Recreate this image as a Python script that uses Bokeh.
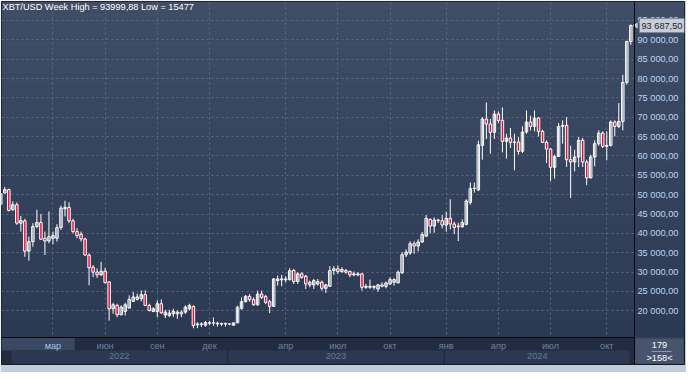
import numpy as np
from bokeh.plotting import figure
from bokeh.models import (Range1d, LinearAxis, FixedTicker, CustomJSTickFormatter, Label,
                          ColumnDataSource, Grid)
from bokeh.embed import file_html
from bokeh.resources import INLINE

# ---- data (weekly XBT/USD candles) ----
open_ = [47500, 50430, 51300, 46100, 47400, 42630, 43240, 35430, 37860, 41760,
         42800, 38730, 38040, 38730, 38730, 41500, 46360, 46700, 43240, 40460,
         39770, 38560, 34400, 31280, 29990, 29300, 30240, 27460, 20520, 21390,
         18960, 19830, 20700, 22430, 22950, 23120, 24160, 21390, 19830, 19830,
         21820, 18900, 18790, 19220, 19220, 19650, 19650, 20520, 21130, 16360,
         16620, 16270, 16800, 16900, 16800, 16600, 16700, 16550, 16270, 16880,
         20600, 22340, 23730, 22860, 21560, 24330, 23730, 22340, 21130, 27800,
         28240, 28000, 28060, 30400, 27540, 29540, 28930, 26680, 26680, 26940,
         27370, 25810, 26330, 30400, 30840, 30140, 30400, 30140, 29280, 29540,
         29540, 26070, 26330, 26070, 25640, 26680, 26330, 26940, 27370, 27200,
         29800, 34480, 34960, 37340, 36740, 37770, 39290, 43620, 41890, 43450,
         43270, 42150, 43880, 42410, 41720, 41700, 42320, 47940, 51570, 51230,
         62740, 69530, 68240, 66090, 70820, 69190, 63770, 64630, 63510, 63600,
         61190, 66180, 68760, 67640, 69790, 66350, 63510, 61790, 57060, 59900,
         67640, 67900, 59040, 58440, 59730, 64030, 58440, 54310, 59730, 63170,
         65920, 62740, 62740, 68760, 67640, 68930, 79000, 89570]
high = [50400, 51990, 51560, 48270, 48000, 44540, 43760, 39160, 42630, 46100,
        45060, 40460, 45670, 40460, 42370, 47140, 48440, 48000, 43760, 41330,
        40460, 38900, 34830, 31800, 30930, 32660, 31100, 27630, 22080, 21820,
        21390, 22080, 24000, 24860, 24420, 25290, 25290, 21820, 20960, 22690,
        22950, 20260, 20260, 20520, 20090, 20090, 21390, 21820, 21390, 17050,
        17050, 17400, 17400, 18270, 17190, 16970, 16970, 16800, 16970, 21300,
        23470, 24070, 24330, 23470, 25200, 25200, 24070, 22860, 28410, 29100,
        29270, 28930, 31000, 30840, 29970, 29970, 29280, 27800, 28240, 28240,
        27800, 26940, 31530, 31530, 31710, 31270, 30840, 30400, 30140, 29970,
        29800, 26940, 28060, 26500, 26940, 27370, 27540, 28670, 28410, 30400,
        35170, 35870, 37950, 37950, 38470, 40370, 44740, 43880, 44140, 43800,
        44740, 45610, 48810, 43020, 42740, 43600, 48800, 53130, 53130, 63950,
        70050, 73830, 69530, 71770, 71510, 72540, 65750, 67210, 65750, 64890,
        67640, 71770, 70390, 71770, 70050, 66780, 64030, 62050, 60330, 68500,
        69190, 70050, 62650, 61620, 64890, 64630, 59040, 60330, 64030, 66610,
        66350, 66350, 69190, 69190, 73660, 80970, 89800, 93999.88]
low = [46900, 50260, 45670, 45840, 42200, 40460, 33960, 32920, 36560, 41330,
       38300, 34400, 37430, 37170, 37860, 40890, 44360, 42630, 40030, 38730,
       37860, 34220, 26590, 28700, 28510, 29030, 27030, 17490, 19220, 18350,
       18960, 18790, 20700, 22430, 22690, 22430, 21220, 19830, 19650, 18350,
       19220, 18100, 18360, 18360, 17920, 18360, 19220, 20090, 15477, 15500,
       15800, 15920, 16270, 16100, 15920, 16100, 15920, 16270, 16270, 16880,
       20260, 22170, 22340, 21300, 21300, 23030, 21730, 19390, 21130, 26500,
       26330, 27370, 27800, 26940, 26940, 28240, 25640, 26070, 25640, 26500,
       25200, 24590, 26330, 29280, 29540, 29800, 29540, 28670, 28930, 28930,
       25200, 25640, 25640, 25470, 24940, 26070, 25810, 26680, 26500, 27200,
       29540, 33870, 34480, 34740, 35350, 37600, 39120, 39980, 40150, 42660,
       41290, 40420, 41020, 39810, 38000, 41450, 42060, 47430, 50540, 50970,
       59040, 64370, 60590, 64370, 68500, 60930, 59300, 62050, 56290, 60330,
       60760, 65750, 66610, 66350, 65060, 63340, 58180, 53450, 54140, 59730,
       63170, 57150, 49150, 56030, 57150, 57150, 52420, 54310, 57320, 62650,
       62050, 58870, 62480, 65060, 67210, 66610, 78390, 88710]
close = [50300, 51300, 45930, 47400, 42630, 43320, 35430, 37860, 41760, 42800,
         38470, 38040, 39160, 39420, 41500, 46530, 46700, 43240, 40460, 39420,
         38560, 34400, 31100, 29990, 29300, 30240, 27290, 20520, 21560, 18960,
         20960, 21560, 22950, 23560, 23560, 24160, 21390, 20090, 20520, 21820,
         19480, 19650, 19390, 19830, 19650, 19220, 20960, 21390, 16190, 16620,
         16500, 16970, 16900, 16800, 16600, 16700, 16550, 16600, 16880, 20950,
         22340, 23730, 22860, 21560, 24330, 23470, 22170, 21130, 28240, 28240,
         28000, 28240, 30400, 27540, 29540, 28670, 26940, 27370, 27800, 27540,
         25810, 26680, 30400, 30840, 30140, 30660, 29970, 29280, 29540, 29280,
         26070, 26330, 26070, 26330, 26680, 26330, 27200, 28060, 28060, 29970,
         34480, 35170, 37340, 36740, 37770, 39680, 43880, 41890, 43450, 43270,
         42150, 43880, 42410, 41540, 41890, 42800, 48370, 51570, 51700, 62900,
         69530, 68240, 66090, 70820, 69190, 63770, 64630, 63510, 63600, 61190,
         66180, 68760, 67640, 69790, 66350, 63510, 61790, 57060, 59900, 67640,
         67900, 59040, 58440, 59730, 64030, 58440, 54310, 59730, 63170, 65920,
         62480, 62480, 68760, 67640, 68930, 79000, 89570, 93687.5]

month_ticks = [13, 26, 39, 52, 71, 84, 97, 111, 124, 137, 151]   # first bar of the month
month_labels = ["мар", "июн", "сен", "дек", "апр", "июл", "окт", "янв", "апр", "июл", "окт"]
year_first_bar = [3, 57, 111]
year_labels = ["2022", "2023", "2024"]
price_ticks = list(range(20000, 100000, 5000))
bars_total = 179

# ---- layout constants (pixels -> data units) ----
n = len(close)
PX = 4.013            # px per bar
VPP = 258.33          # price units per px
FW, FH = 683, 363     # frame size (plot + right scale + bottom strip)
PLOT_W, PLOT_H = 633, 336
x0 = 1 - 3.3 / PX
x_end = x0 + FW / PX
xr = x0 + PLOT_W / PX               # right edge of the price area
y1 = 99900
yb = y1 - PLOT_H * VPP              # bottom of the price area
y_end = yb - (FH - PLOT_H) * VPP
y_mid = yb - 13 * VPP               # boundary month row / year row
FONT = "Liberation Sans"
FS = "9.2px"

idx = np.arange(n)
o = np.array(open_, dtype=float); c = np.array(close, dtype=float)
up = c >= o
src_up = ColumnDataSource(dict(x=idx[up], top=np.maximum(o, c)[up], bottom=np.minimum(o, c)[up]))
src_dn = ColumnDataSource(dict(x=idx[~up], top=np.maximum(o, c)[~up], bottom=np.minimum(o, c)[~up]))
src_w = ColumnDataSource(dict(x=idx, h=high, l=low))

p = figure(width=686, height=372, output_backend="svg", toolbar_location=None,
           x_range=Range1d(x0, x_end), y_range=Range1d(y_end, y1),
           x_axis_location=None, y_axis_location=None,
           min_border_left=1, min_border_top=1, min_border_right=2, min_border_bottom=8)
p.border_fill_color = "#c2cddb"
p.background_fill_color = "#36435d"
p.outline_line_color = "#161b22"
p.grid.visible = False

# background gradient for price area (style only)
nb = 60
ys = np.linspace(yb, y1, nb + 1)
t = np.linspace(0, 1, nb)
top_c = np.array([0x40, 0x4e, 0x68]); bot_c = np.array([0x2c, 0x39, 0x53])
cols = ["#%02x%02x%02x" % tuple((bot_c + (top_c - bot_c) * tt).astype(int)) for tt in t]
p.quad(left=x0, right=xr, bottom=ys[:-1], top=ys[1:], color=cols, line_color=None, level="image")

gx = Grid(dimension=0, ticker=FixedTicker(ticks=month_ticks), grid_line_color="#5a6880",
          grid_line_dash="2 3", grid_line_width=1)
gy = Grid(dimension=1, ticker=FixedTicker(ticks=price_ticks), grid_line_color="#5a6880",
          grid_line_dash="2 3", grid_line_width=1)
p.add_layout(gx); p.add_layout(gy)

# panels drawn over the grid: price scale background and bottom time strip
p.quad(left=xr, right=x_end, bottom=ys[:-1], top=ys[1:], color=cols, line_color=None)
p.quad(left=x0, right=xr, bottom=y_end, top=yb, color="#212c42", line_color=None)
p.quad(left=x0, right=x0 + 73 / PX, bottom=y_mid, top=yb, color="#3a4861", line_color=None)
yr_left = [b - 0.3 for b in year_first_bar]
yr_right = [b - 0.7 for b in year_first_bar[1:]] + [n - 1.3]
p.quad(left=yr_left, right=yr_right, bottom=y_end + VPP, top=y_mid, color="#2b384f",
       line_color=None)
p.quad(left=xr + 1 / PX, right=x_end - 1 / PX, bottom=y_end + VPP, top=yb - VPP,
       color="#46556d", line_color=None)
p.segment(x0=x0 + 650 / PX, x1=x0 + 670 / PX, y0=yb - 14 * VPP, y1=yb - 14 * VPP,
          line_color="#8b9bb3", line_width=1)

# candles
p.segment(x0="x", y0="l", x1="x", y1="h", source=src_w, line_color="white", line_width=1)
p.vbar(x="x", top="top", bottom="bottom", width=0.62, source=src_up,
       fill_alpha=0, line_color="white", line_width=1)
p.vbar(x="x", top="top", bottom="bottom", width=0.62, source=src_dn,
       fill_color="#e0103c", line_color="white", line_width=1)

# right price axis (fixed at the edge of the price area)
fmt = CustomJSTickFormatter(code="""
const s = tick.toFixed(2).split('.');
return s[0].replace(/\\B(?=(\\d{3})+(?!\\d))/g, ' ') + ',' + s[1];
""")
ya = LinearAxis(ticker=FixedTicker(ticks=price_ticks), formatter=fmt, fixed_location=xr)
ya.axis_line_color = "#05070a"
ya.major_tick_out = 0; ya.major_tick_in = 0; ya.minor_tick_out = 0; ya.minor_tick_in = 0
ya.major_label_text_color = "#bcd6f2"
ya.major_label_text_font = FONT
ya.major_label_text_font_size = FS
ya.major_label_standoff = 3
p.add_layout(ya, "right")

def lookup(tv, lv):
    return CustomJSTickFormatter(args=dict(tv=tv, lv=lv), code="""
const i = tv.indexOf(tick);
return i >= 0 ? lv[i] : '';
""")

def time_axis(ticks, labels, loc, color, standoff, line_color=None):
    ax = LinearAxis(ticker=FixedTicker(ticks=ticks), formatter=lookup(ticks, labels),
                    fixed_location=loc, bounds=(x0, xr))
    ax.axis_line_color = line_color
    ax.major_tick_out = 0; ax.major_tick_in = 0; ax.minor_tick_out = 0; ax.minor_tick_in = 0
    ax.major_label_text_color = color
    ax.major_label_text_font = FONT
    ax.major_label_text_font_size = FS
    ax.major_label_standoff = standoff
    p.add_layout(ax, "below")
    return ax

# month row: the first (hovered) month is drawn brighter, as in the reference
time_axis(month_ticks[1:], month_labels[1:], yb, "#6f82a0", 3, line_color="#05070a")
time_axis(month_ticks[:1], month_labels[:1], yb, "#a2c2ea", 3)

year_ticks = [(l + r) / 2 for l, r in zip(yr_left, yr_right)]
time_axis(year_ticks, year_labels, y_mid, "#68789a", 2)

# title text
def num(v):
    s = ("%.2f" % v).rstrip("0").rstrip(".")
    return s.replace(".", ",")
title = "XBT/USD Week High = %s Low = %s" % (num(max(high)), num(min(low)))
p.add_layout(Label(x=x0 + 1 / PX, y=y1 - 5.5 * VPP, text=title,
                   text_color="white", text_font=FONT, text_font_size=FS,
                   text_baseline="middle"))

# last price marker
last = "%s,%s" % (format(int(close[-1]), ",").replace(",", " "), ("%.2f" % close[-1]).split(".")[1])
p.scatter(x=[xr + 1.5 / PX], y=[close[-1]], marker="triangle", angle=np.pi / 2, size=6,
          fill_color="#c9ced6", line_color=None)
p.add_layout(Label(x=xr, y=close[-1], x_offset=5, text=last,
                   text_color="#1a2230", text_font=FONT, text_font_size=FS,
                   text_baseline="middle", background_fill_color="#c9ced6",
                   border_line_color="#7d8696", padding=2))

# bar counter
xc = (xr + x_end) / 2
p.add_layout(Label(x=xc, y=yb - 7 * VPP, text=str(bars_total),
                   text_color="white", text_font=FONT, text_font_size=FS,
                   text_align="center", text_baseline="middle"))
p.add_layout(Label(x=xc, y=yb - 20.5 * VPP, text=">%d<" % n,
                   text_color="white", text_font=FONT, text_font_size=FS,
                   text_align="center", text_baseline="middle"))

open("out.html", "w").write(file_html(p, INLINE))
